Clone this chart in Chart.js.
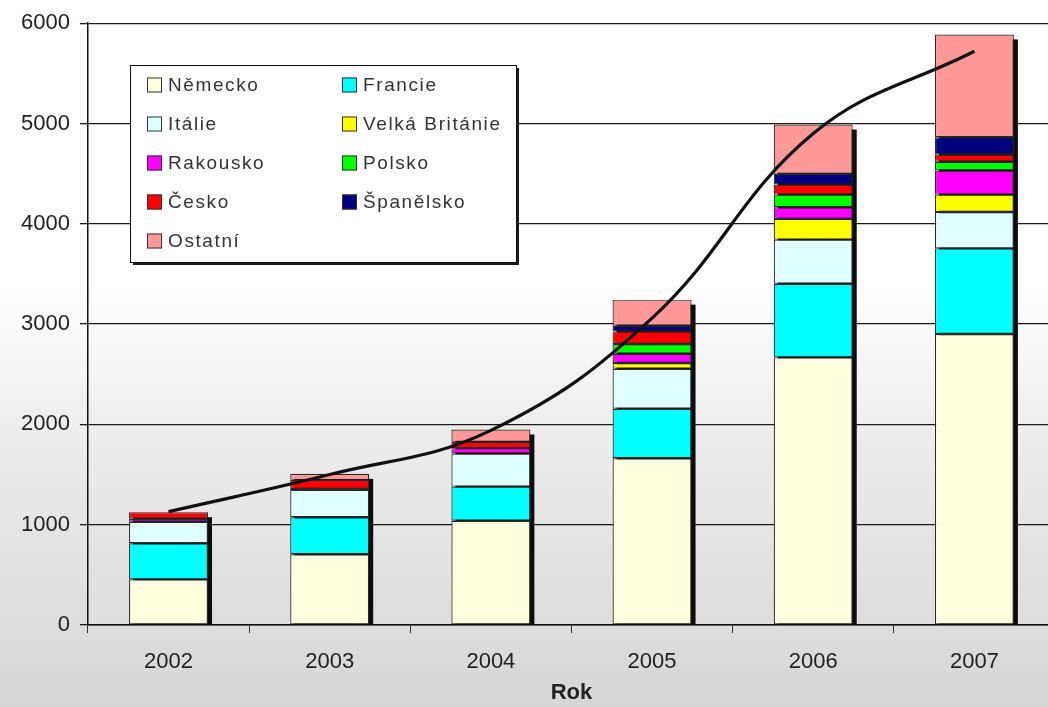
<!DOCTYPE html>
<html lang="cs">
<head>
<meta charset="utf-8">
<title>Rok</title>
<script src="https://cdn.jsdelivr.net/npm/chart.js@4/dist/chart.umd.min.js"></script>
<style>
  html, body { margin: 0; padding: 0; overflow: hidden; background: #fff; }
  #wrap { position: relative; width: 1056px; height: 707px; }
</style>
</head>
<body>
<div id="wrap"><canvas id="chart"></canvas></div>
<script>
// Years on the category axis
const years = ['2002', '2003', '2004', '2005', '2006', '2007'];

// Stacked values per country (bottom to top)
const nemecko       = [455, 705, 1040, 1663, 2668, 2901];
const francie       = [360, 370, 340, 493, 735, 854];
const italie        = [215, 272, 330, 399, 439, 363];
const velkaBritanie = [0, 0, 0, 57, 207, 173];
const rakousko      = [30, 10, 53, 93, 116, 240];
const polsko        = [0, 0, 0, 96, 126, 87];
const cesko         = [65, 90, 63, 126, 100, 73];
const spanelsko     = [0, 0, 0, 57, 107, 172];
const ostatni       = [0, 60, 123, 260, 492, 1025];

// Smoothed trend line
const trend = [1130, 1500, 1940, 3060, 4900, 5720];

// Value axis ticks
const yTicks = [0, 1000, 2000, 3000, 4000, 5000, 6000];

const seriesNames = ['Německo', 'Francie', 'Itálie', 'Velká Británie', 'Rakousko',
                     'Polsko', 'Česko', 'Španělsko', 'Ostatní'];
const seriesValues = [nemecko, francie, italie, velkaBritanie, rakousko,
                      polsko, cesko, spanelsko, ostatni];
const seriesColors = ['#FFFFE0', '#00FFFF', '#E0FFFF', '#FFFF00', '#FF00FF',
                      '#00FF00', '#FF0000', '#000080', '#FF9999'];

const FONT = '"Liberation Sans", Arial, sans-serif';

const barSets = seriesNames.map((name, i) => ({
  type: 'bar',
  label: name,
  data: seriesValues[i],
  backgroundColor: seriesColors[i],
  borderColor: '#2a2a2a',
  borderWidth: 1.2,
  borderSkipped: false,
  barPercentage: 0.49,
  categoryPercentage: 1.0,
  stack: 'staty',
  order: 1
}));

const lineSet = {
  type: 'line',
  label: 'trend',
  data: trend,
  borderColor: '#111111',
  borderWidth: 3.2,
  pointRadius: 0,
  tension: 0.4,
  fill: false,
  order: 0
};

// Page background: white fading into light grey
const backdrop = {
  id: 'backdrop',
  beforeDraw(chart) {
    const { ctx, width, height } = chart;
    const g = ctx.createLinearGradient(0, 0, 0, height);
    g.addColorStop(0, '#ffffff');
    g.addColorStop(0.40, '#ffffff');
    g.addColorStop(0.62, '#ececec');
    g.addColorStop(1, '#d6d6d6');
    ctx.save();
    ctx.fillStyle = g;
    ctx.fillRect(0, 0, width, height);
    ctx.restore();
  }
};

// Dark drop shadow behind each stacked column (offset right and down)
const columnShadow = {
  id: 'columnShadow',
  beforeDatasetsDraw(chart, args, opts) {
    const ctx = chart.ctx;
    const metas = chart.getSortedVisibleDatasetMetas().filter(m => m.type === 'bar');
    const area = chart.chartArea;
    ctx.save();
    ctx.beginPath();
    ctx.rect(area.left, area.top, area.right - area.left, area.bottom - area.top);
    ctx.clip();
    ctx.fillStyle = opts.color;
    chart.data.labels.forEach((_, i) => {
      let top = Infinity, base = -Infinity, x = 0, w = 0;
      metas.forEach(m => {
        const el = m.data[i];
        if (!el) return;
        top = Math.min(top, el.y);
        base = Math.max(base, el.base);
        x = el.x; w = el.width;
      });
      if (!isFinite(top)) return;
      ctx.fillRect(x - w / 2 + opts.dx, top + opts.dy, w, base - top);
    });
    ctx.restore();
  }
};

// Boxed two-column legend inside the plot
const boxLegend = {
  id: 'boxLegend',
  afterDraw(chart, args, opts) {
    const ctx = chart.ctx;
    const { x, y, w, h, rowGap, colX, textDx, sw } = opts;
    ctx.save();
    ctx.fillStyle = '#1a1a1a';
    ctx.fillRect(x + 3, y + 3, w, h);
    ctx.fillStyle = '#ffffff';
    ctx.fillRect(x, y, w, h);
    ctx.strokeStyle = '#111';
    ctx.lineWidth = 1;
    ctx.strokeRect(x + 0.5, y + 0.5, w, h);

    ctx.font = '19px ' + FONT;
    ctx.letterSpacing = '1.6px';
    ctx.textBaseline = 'middle';
    const items = chart.data.datasets.filter(d => d.type === 'bar');
    items.forEach((d, i) => {
      const col = i % 2, row = Math.floor(i / 2);
      const cy = y + 20 + row * rowGap;
      const bx = x + colX[col];
      ctx.fillStyle = d.backgroundColor;
      ctx.fillRect(bx, cy - sw / 2, sw, sw);
      ctx.strokeStyle = '#333';
      ctx.strokeRect(bx + 0.5, cy - sw / 2 + 0.5, sw - 1, sw - 1);
      ctx.fillStyle = '#333';
      ctx.fillText(d.label, bx + textDx, cy + 1);
    });
    ctx.restore();
  }
};

new Chart(document.getElementById('chart'), {
  data: { labels: years, datasets: [...barSets, lineSet] },
  plugins: [backdrop, columnShadow, boxLegend],
  options: {
    responsive: true,
    maintainAspectRatio: false,
    animation: false,
    events: [],
    layout: { padding: { left: 11, right: 1, top: 19, bottom: 3 } },
    plugins: {
      legend: { display: false },
      tooltip: { enabled: false },
      columnShadow: { color: '#0d0d0d', dx: 4, dy: 5 },
      boxLegend: { x: 130, y: 65, w: 386, h: 197, rowGap: 39, colX: [17, 212], textDx: 21, sw: 15 }
    },
    scales: {
      x: {
        stacked: true,
        grid: { display: true, drawOnChartArea: false, offset: true, tickLength: 8, color: '#333', lineWidth: 1 },
        border: { display: true, color: '#111', width: 1.5 },
        ticks: { color: '#222', padding: 18, font: { family: FONT, size: 22, lineHeight: 1.0 } },
        title: {
          display: true, text: 'Rok', color: '#222',
          padding: { top: -9, bottom: 0 },
          font: { family: FONT, size: 22, weight: 'bold', lineHeight: 1.0 }
        }
      },
      y: {
        stacked: true,
        min: 0,
        max: 6000,
        afterBuildTicks(scale) { scale.ticks = yTicks.map(v => ({ value: v })); },
        grid: { color: '#1a1a1a', lineWidth: 1.3, tickLength: 8 },
        border: { display: true, color: '#111', width: 1.5 },
        ticks: {
          color: '#222', padding: 10,
          font: { family: FONT, size: 22 },
          callback: v => String(v)
        }
      }
    }
  }
});
</script>
</body>
</html>
